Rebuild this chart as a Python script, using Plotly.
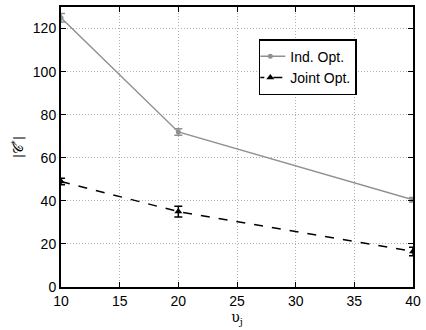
import plotly.graph_objects as go

x_vals = [10, 20, 40]
ind_opt = [125, 72, 40.5]
ind_err = [2, 1.5, 1]
joint_opt = [49, 35, 16.5]
joint_err = [1.5, 2.5, 2]
x_ticks = [10, 15, 20, 25, 30, 35, 40]
y_ticks = [0, 20, 40, 60, 80, 100, 120]

fig = go.Figure()
fig.add_trace(go.Scatter(
    x=x_vals, y=ind_opt, name="Ind. Opt.", mode="lines+markers",
    line=dict(color="#909090", width=1.5),
    marker=dict(symbol="circle", size=5, color="#909090"),
    error_y=dict(type="data", array=ind_err, color="#909090", thickness=1.5, width=4),
))
fig.add_trace(go.Scatter(
    x=x_vals, y=joint_opt, name="Joint Opt.", mode="lines+markers",
    line=dict(color="black", width=1.5, dash="dash"),
    marker=dict(symbol="triangle-up", size=7, color="black"),
    error_y=dict(type="data", array=joint_err, color="black", thickness=1.5, width=4),
))

axis_common = dict(
    showline=True, linecolor="black", linewidth=2, mirror="allticks",
    ticks="inside", ticklen=5, tickcolor="black",
    showgrid=True, gridcolor="#b0b0b0", griddash="1px,2px", gridwidth=1,
    zeroline=False,
    tickfont=dict(family="Liberation Sans, Arial", size=14, color="black"),
)
fig.update_xaxes(range=[10, 40], tickvals=x_ticks, **axis_common,
                 title=dict(text="υ<sub>j</sub>", standoff=0,
                            font=dict(family="DejaVu Serif", size=14, color="black")))
fig.update_yaxes(range=[0, 130], tickvals=y_ticks, **axis_common,
                 title=dict(text="|𝒞<sup>*</sup>|", standoff=6,
                            font=dict(family="DejaVu Sans", size=13, color="black")))

fig.update_layout(
    width=426, height=330,
    margin=dict(l=61, r=9, t=5, b=43),
    plot_bgcolor="white", paper_bgcolor="white",
    font=dict(family="Liberation Sans, Arial", size=14, color="black"),
    legend=dict(x=0.562, y=0.885, xanchor="left", yanchor="top",
                bordercolor="black", borderwidth=1.5, bgcolor="white",
                font=dict(size=14), tracegroupgap=0, itemwidth=30,
                indentation=-10),
    showlegend=True,
)
fig.write_html("out.html")
